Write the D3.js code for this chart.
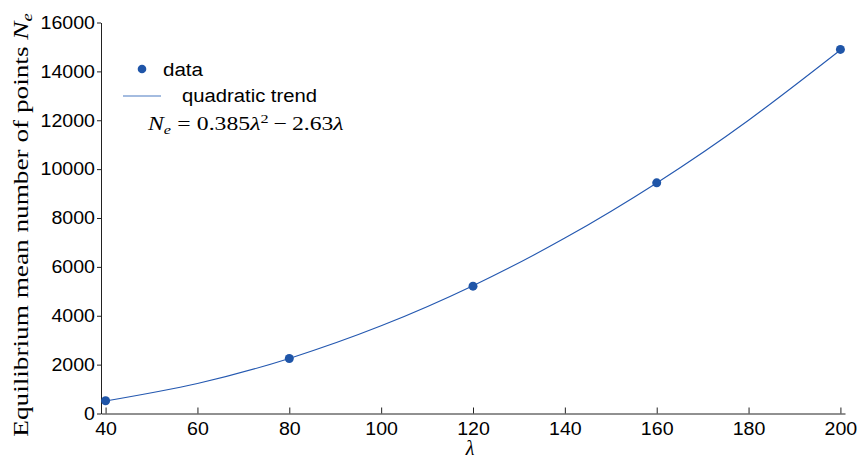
<!DOCTYPE html>
<html>
<head>
<meta charset="utf-8">
<script src="https://cdn.jsdelivr.net/npm/d3@7"></script>
<style>
body { margin: 0; background: #fff; }
svg { display: block; }
</style>
</head>
<body>
<svg id="chart" width="857" height="458"></svg>
<script>
// Data
const lambdaValues = [40, 80, 120, 160, 200];
const dataValues = [520, 2250, 5210, 9440, 14900];
// Quadratic trend curve, read at regular lambda positions
const trendLambda = [40, 60, 80, 100, 120, 140, 160, 180, 200];
const trendValues = [511, 1228, 2254, 3587, 5228, 7178, 9435, 12001, 14874];
const xTicks = [40, 60, 80, 100, 120, 140, 160, 180, 200];
const yTicks = [0, 2000, 4000, 6000, 8000, 10000, 12000, 14000, 16000];
const legendLabels = ["data", "quadratic trend"];

const svg = d3.select("#chart");
const colDot = "#1f55a8";
const colLine = "#2458b0";
const sans = "Liberation Sans, Arial, sans-serif";
const serif = "Liberation Serif, Times New Roman, serif";

const x = d3.scaleLinear().domain([39, 201]).range([101, 845]);
const y = d3.scaleLinear().domain([0, 16000]).range([413.5, 22.5]);

function styleTickText(sel) {
  sel.attr("font-family", sans).attr("font-size", 18).attr("fill", "#000")
    .attr("textLength", function () { return this.textContent.length * 10.9; })
    .attr("lengthAdjust", "spacingAndGlyphs");
}

// axes
const xAxis = d3.axisBottom(x).tickValues(xTicks).tickSizeInner(-6).tickSizeOuter(0).tickPadding(9).tickFormat(d3.format("d"));
const gx = svg.append("g").attr("transform", `translate(0,${y(0)})`).call(xAxis);
gx.select(".domain").attr("stroke", "#222");
gx.selectAll(".tick line").attr("stroke", "#222");
gx.selectAll("text").call(styleTickText);

const yAxis = d3.axisLeft(y).tickValues(yTicks).tickSizeInner(4).tickSizeOuter(0).tickPadding(2).tickFormat(d3.format("d"));
const gy = svg.append("g").attr("transform", `translate(${x(39)},0)`).call(yAxis);
gy.select(".domain").attr("stroke", "#222");
gy.selectAll(".tick line").attr("stroke", "#222");
gy.selectAll("text").call(styleTickText);

// trend line
const line = d3.line().x((d, i) => x(trendLambda[i])).y(d => y(d)).curve(d3.curveNatural);
svg.append("path").datum(trendValues).attr("d", line)
  .attr("fill", "none").attr("stroke", colLine).attr("stroke-width", 1.1);

// data points
svg.append("g").selectAll("circle").data(dataValues).join("circle")
  .attr("cx", (d, i) => x(lambdaValues[i])).attr("cy", d => y(d)).attr("r", 4.5).attr("fill", colDot);

// legend
const lg = svg.append("g");
lg.append("circle").attr("cx", 142).attr("cy", 69).attr("r", 4.3).attr("fill", colDot);
lg.append("text").attr("x", 163).attr("y", 76).text(legendLabels[0])
  .attr("font-family", sans).attr("font-size", 18).attr("fill", "#000")
  .attr("textLength", 40).attr("lengthAdjust", "spacingAndGlyphs");
lg.append("line").attr("x1", 123).attr("x2", 161).attr("y1", 96).attr("y2", 96)
  .attr("stroke", "#86a6d6").attr("stroke-width", 1.5);
lg.append("text").attr("x", 182).attr("y", 102).text(legendLabels[1])
  .attr("font-family", sans).attr("font-size", 18).attr("fill", "#000")
  .attr("textLength", 135).attr("lengthAdjust", "spacingAndGlyphs");

// equation
const eq = svg.append("text").attr("x", 148).attr("y", 130)
  .attr("font-family", serif).attr("font-size", 19).attr("fill", "#000");
eq.append("tspan").attr("font-style", "italic").text("N");
eq.append("tspan").attr("font-style", "italic").attr("font-size", 13).attr("dy", 4).text("e");
eq.append("tspan").attr("dy", -4).attr("dx", 5).text("=");
eq.append("tspan").attr("dx", 5).text("0.385");
eq.append("tspan").attr("font-style", "italic").text("λ");
eq.append("tspan").attr("font-size", 13).attr("dy", -7).text("2");
eq.append("tspan").attr("dy", 7).attr("dx", 4).text("−");
eq.append("tspan").attr("dx", 4).text("2.63");
eq.append("tspan").attr("font-style", "italic").text("λ");
{
  const w = eq.node().getBBox().width;
  const s = 197 / w;
  eq.attr("transform", `translate(148,0) scale(${s},1) translate(-148,0)`);
}

// x label
svg.append("text").attr("x", 470).attr("y", 455).attr("text-anchor", "middle")
  .attr("font-family", serif).attr("font-style", "italic").attr("font-size", 20)
  .attr("fill", "#000").text("λ");

// y label
const yl = svg.append("text").attr("text-anchor", "middle")
  .attr("font-family", serif).attr("font-size", 22).attr("fill", "#000");
yl.append("tspan").text("Equilibrium mean number of points ");
yl.append("tspan").attr("font-style", "italic").text("N");
yl.append("tspan").attr("font-style", "italic").attr("font-size", 15).attr("dy", 4).text("e");
{
  const w = yl.node().getBBox().width;
  const s = 424 / w;
  yl.attr("transform", `translate(28,225) rotate(-90) scale(${s},1)`);
}
</script>
</body>
</html>
